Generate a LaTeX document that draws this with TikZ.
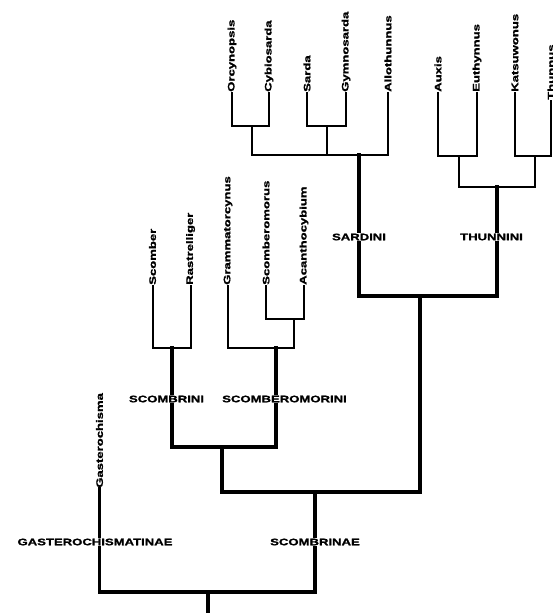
\documentclass[tikz,border=0pt]{standalone}
\usepackage{fontspec}
\usepackage{graphicx}
\setmainfont{Liberation Sans}[BoldFeatures={FakeBold=1.2}]
\newcommand\sx[1]{\scalebox{1.38}[1]{#1}}
\tikzset{
  sp/.style={rotate=90, anchor=west, inner sep=1pt, font=\fontsize{9.5}{10}\selectfont\bfseries},
  clade/.style={inner xsep=1pt, inner ysep=2.5pt, font=\fontsize{9.5}{10}\selectfont\bfseries},
  thinl/.style={line width=2pt, line cap=rect, line join=miter},
  thickl/.style={line width=3.6pt, line cap=rect, line join=miter},
}
\begin{document}
\begin{tikzpicture}[x=1pt,y=-1pt]
\useasboundingbox (0,0) rectangle (552,613);
% species
\node[sp] (orc) at (232,93) {\sx{Orcynopsis}};
\node[sp] (cyb) at (269,93) {\sx{Cybiosarda}};
\node[sp] (sar) at (307,93) {\sx{Sarda}};
\node[sp] (gym) at (346,93) {\sx{Gymnosarda}};
\node[sp] (allo) at (388,93) {\sx{Allothunnus}};
\node[sp] (aux) at (438,93) {\sx{Auxis}};
\node[sp] (eut) at (477,93) {\sx{Euthynnus}};
\node[sp] (kat) at (515,93) {\sx{Katsuwonus}};
\node[sp] (thu) at (551,101) {\sx{Thunnus}};
\node[sp] (sco) at (152.5,286) {\sx{Scomber}};
\node[sp] (ras) at (190.5,286) {\sx{Rastrelliger}};
\node[sp] (gra) at (228,286) {\sx{Grammatorcynus}};
\node[sp] (scm) at (266,286) {\sx{Scomberomorus}};
\node[sp] (aca) at (304,286) {\sx{Acanthocybium}};
\node[sp] (gas) at (99.5,489) {\sx{Gasterochisma}};
% clade labels
\node[clade] (sardini) at (359,237) {\sx{SARDINI}};
\node[clade] (thunnini) at (491.5,237) {\sx{THUNNINI}};
\node[clade] (scombrini) at (166.5,399) {\sx{SCOMBRINI}};
\node[clade] (scomberomorini) at (284.5,399) {\sx{SCOMBEROMORINI}};
\node[clade] (gasterochismatinae) at (95,542) {\sx{GASTEROCHISMATINAE}};
\node[clade] (scombrinae) at (315,542) {\sx{SCOMBRINAE}};
% junctions
\coordinate (jOC) at (252,126);
\coordinate (jSG) at (327,126);
\coordinate (jSard) at (359,155);
\coordinate (jAE) at (459,156);
\coordinate (jKT) at (535,156);
\coordinate (jThun) at (497,187);
\coordinate (jST) at (420,296);
\coordinate (jSA) at (294,319);
\coordinate (jSmo) at (276,348);
\coordinate (jSb) at (172,348);
\coordinate (jSS) at (222,447);
\coordinate (jSc) at (315,492);
\coordinate (jRoot) at (208,592);
\coordinate (rootend) at (208,613);
% Sardini
\draw[thinl] (orc.west) |- (jOC) -| (cyb.west);
\draw[thinl] (sar.west) |- (jSG) -| (gym.west);
\draw[thinl] (jOC) |- (jSard) -| (allo.west);
\draw[thinl] (jSG) -- (jSG |- jSard);
\draw[thickl] (jSard) -- (jSard |- sardini.north);
% Thunnini
\draw[thinl] (aux.west) |- (jAE) -| (eut.west);
\draw[thinl] (kat.west) |- (jKT) -| (thu.west);
\draw[thinl] (jAE) |- (jThun) -| (jKT);
\draw[thickl] (jThun) -- (jThun |- thunnini.north);
\draw[thickl] (jSard |- sardini.south) |- (jST) -| (jThun |- thunnini.south);
% Scombrini / Scomberomorini
\draw[thinl] (scm.west) |- (jSA) -| (aca.west);
\draw[thinl] (gra.west) |- (jSmo) -| (jSA);
\draw[thinl] (sco.west) |- (jSb) -| (ras.west);
\draw[thickl] (jSb) -- (jSb |- scombrini.north);
\draw[thickl] (jSmo) -- (jSmo |- scomberomorini.north);
\draw[thickl] (jSb |- scombrini.south) |- (jSS) -| (jSmo |- scomberomorini.south);
% Scombrinae
\draw[thickl] (jSS) |- (jSc) -| (jST);
\draw[thickl] (jSc) -- (jSc |- scombrinae.north);
% Gasterochismatinae and root
\draw[thickl] (gas.west) -- (gas.west |- gasterochismatinae.north);
\draw[thickl] (gas.west |- gasterochismatinae.south) |- (jRoot) -| (jSc |- scombrinae.south);
\draw[thickl] (jRoot) -- (rootend);
\end{tikzpicture}
\end{document}
